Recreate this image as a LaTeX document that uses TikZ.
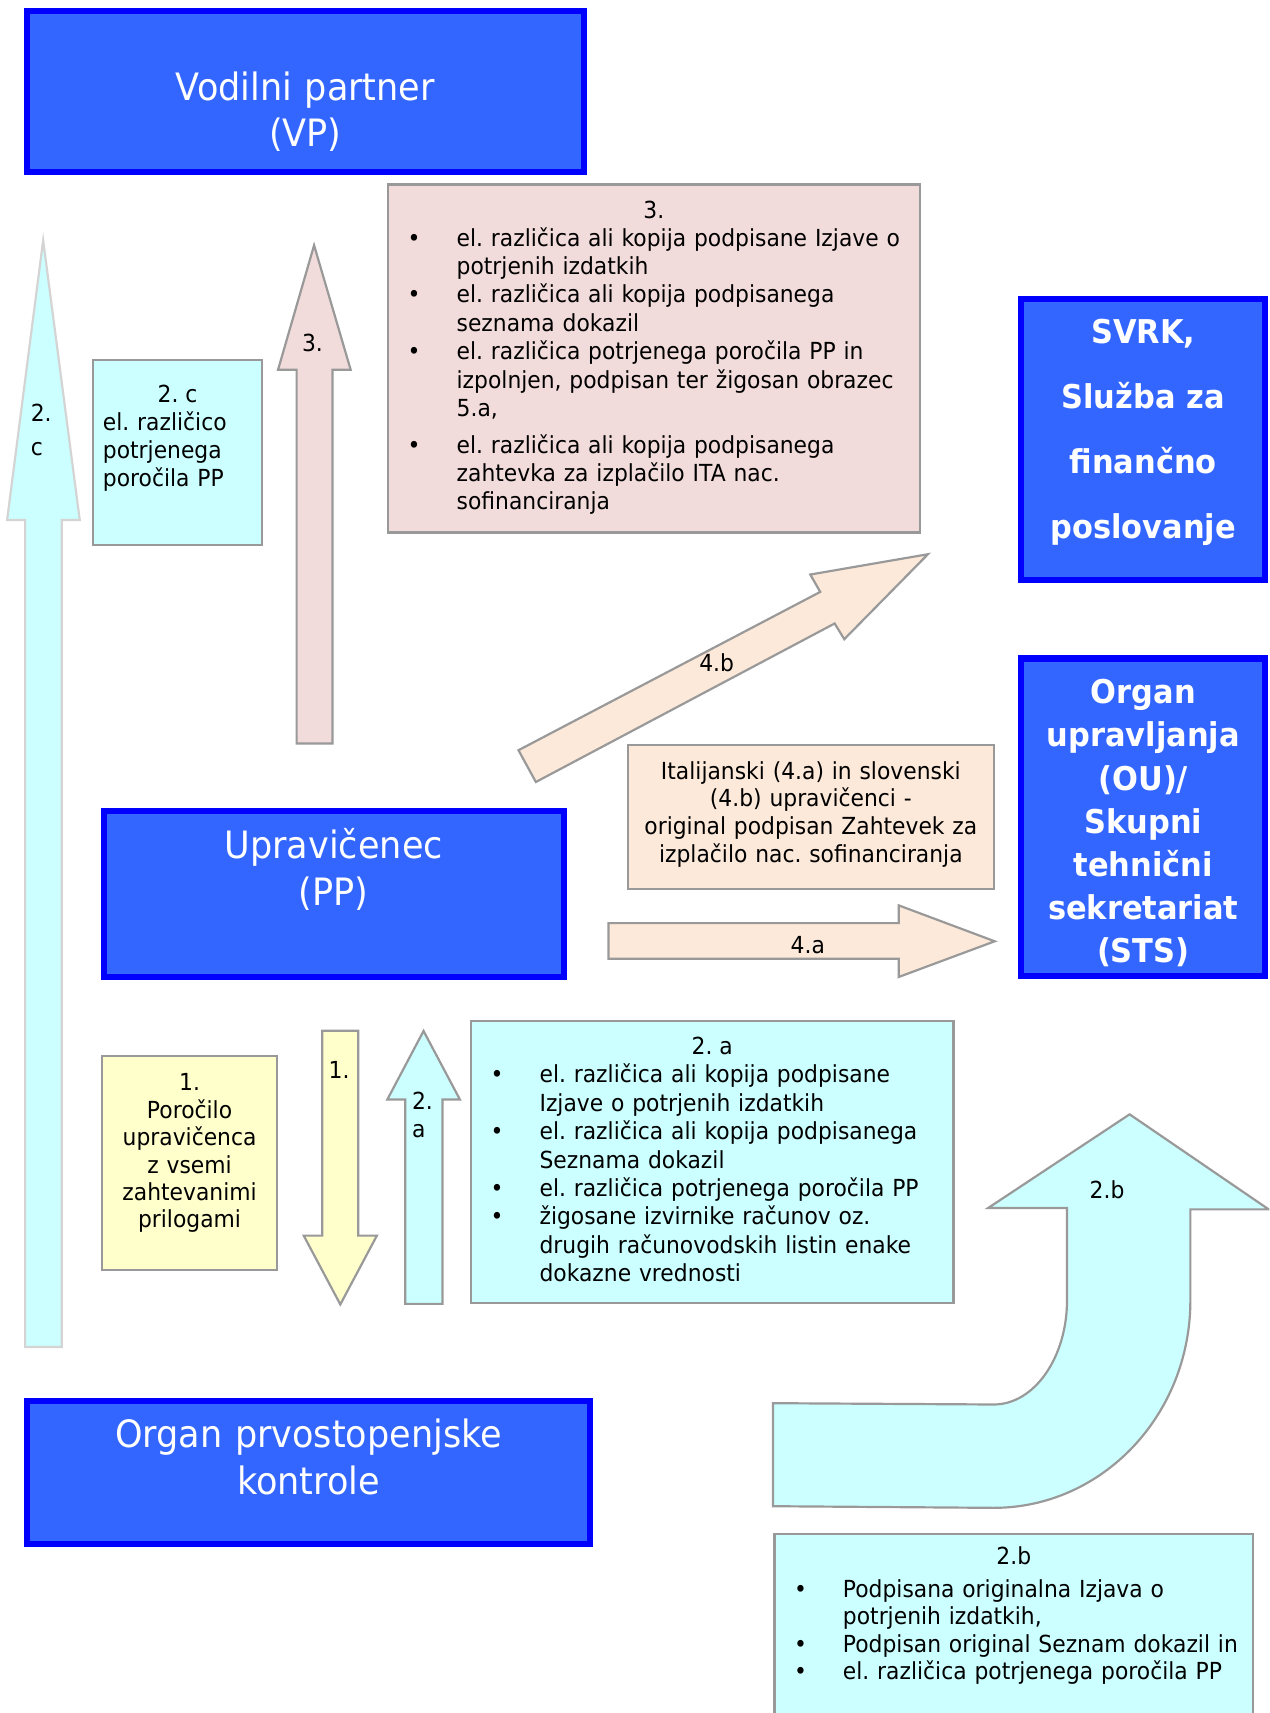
\documentclass[tikz,border=0pt]{standalone}
\usepackage{fontspec}
\setmainfont{DejaVu Sans}[FakeStretch=0.93]
\definecolor{bfill}{HTML}{3366FF}
\definecolor{bline}{HTML}{0000FF}
\definecolor{pinkf}{HTML}{F2DCDB}
\definecolor{cyanf}{HTML}{CCFFFF}
\definecolor{yellf}{HTML}{FFFFCC}
\definecolor{peachf}{HTML}{FDE9D9}
\definecolor{grayl}{HTML}{999999}
\definecolor{grayll}{HTML}{D4D4D4}
\newcommand\bitem{\hangindent=44.8pt\hangafter=1\makebox[44.8pt][l]{•}}
\begin{document}
\frenchspacing
\begin{tikzpicture}[x=1pt,y=-1pt,
  bluebox/.style={draw=bline, fill=bfill, line width=5.5pt, inner sep=0pt, outer sep=0pt, anchor=north west},
  graybox/.style={draw=grayl, fill=#1, line width=2pt, inner sep=0pt, outer sep=0pt, anchor=north west},
  blockarrow/.style={draw=grayl, fill=#1, line width=2pt, line join=miter},
  txt/.style={inner sep=0pt, font=\fontsize{21.5}{26}\selectfont},
  list/.style={txt, align=left, text width=#1, anchor=north west},
  hdr/.style={inner sep=0pt, text=white, align=center, text width=#1, anchor=north, font=\fontsize{34.5}{42.7}\selectfont},
  bhdr/.style={inner sep=0pt, text=white, align=center, text width=220pt, anchor=north, font=\bfseries\fontsize{30}{#1}\selectfont}
]
\useasboundingbox (0,0) rectangle (1162,1568);
\clip (0,0) rectangle (1162,1568);
\fill[white] (0,0) rectangle (1162,1568);

% ---------- block arrows ----------
\filldraw[blockarrow=cyanf, draw=grayll] (23,1233) -- (23,476) -- (6.5,476) -- (39.5,220) -- (73,476) -- (56.5,476) -- (56.5,1233) -- cycle;
\filldraw[blockarrow=pinkf] (271.5,680.5) -- (271.5,338.5) -- (254.5,338.5) -- (287.5,224.5) -- (321,338.5) -- (304.3,338.5) -- (304.3,680.5) -- cycle;
\filldraw[blockarrow=yellf] (295,943.5) -- (328,943.5) -- (328,1131) -- (345,1131) -- (311.5,1194) -- (278,1131) -- (295,1131) -- cycle;
\filldraw[blockarrow=cyanf] (371,1193.5) -- (371,1006.5) -- (354.5,1006.5) -- (387.7,943.7) -- (421,1006.5) -- (405,1006.5) -- (405,1193.5) -- cycle;
\filldraw[blockarrow=peachf] (474.6,686.7) -- (750.8,541.8) -- (741.7,525.9) -- (849.4,507.3) -- (772.8,585.1) -- (764,570.7) -- (490.5,715.8) -- cycle;
\filldraw[blockarrow=peachf] (557,845) -- (822.6,845) -- (822.6,828.7) -- (910.5,861.6) -- (822.6,894.3) -- (822.6,877.5) -- (557,877.5) -- cycle;
\filldraw[blockarrow=cyanf] (707.5,1284.4) -- (909.6,1285.6) .. controls (946.6,1285.6) and (976.7,1242.8) .. (976.7,1190) -- (976.7,1105.8) -- (904.4,1105.8) -- (1034,1020) -- (1161.3,1107) -- (1089.6,1107) -- (1089.6,1190.4) .. controls (1089.6,1295.2) and (1009,1380.2) .. (909.6,1380.2) -- (707.5,1378.7) -- cycle;

% ---------- blue boxes ----------
\node[bluebox, minimum width=509.5pt, minimum height=147.5pt] (vp) at (24.75,9.75) {};
\node[bluebox, minimum width=223.5pt, minimum height=257.5pt] (svrk) at (934.75,273.75) {};
\node[bluebox, minimum width=223.5pt, minimum height=290.5pt] (ou) at (934.75,602.75) {};
\node[bluebox, minimum width=421.5pt, minimum height=151.5pt] (pp) at (94.75,742.75) {};
\node[bluebox, minimum width=515.5pt, minimum height=130.6pt] (opk) at (24.75,1282.25) {};

% ---------- gray boxes ----------
\node[graybox=pinkf, minimum width=487.5pt, minimum height=318.5pt] (b3) at (354.8,168.9) {};
\node[graybox=cyanf, minimum width=155.1pt, minimum height=169.4pt] (b2c) at (85,329.3) {};
\node[graybox=yellf, minimum width=160.7pt, minimum height=196.1pt] (b1) at (93.2,966.4) {};
\node[graybox=cyanf, minimum width=441.4pt, minimum height=258.6pt] (b2a) at (431.4,934.4) {};
\node[graybox=peachf, minimum width=334.7pt, minimum height=132.4pt] (bpe) at (574.8,681.6) {};
\node[graybox=cyanf, minimum width=437.6pt, minimum height=250pt] (b2b) at (709,1404) {};

% ---------- header texts ----------
\node[hdr=500pt] (tvp) at (279.5,63.6) {\rule{0pt}{28pt}Vodilni partner\\(VP)};
\node[hdr=420pt] (tpp) at (305.5,758) {\rule{0pt}{28pt}Upravičenec\\(PP)};
\node[hdr=510pt] (topk) at (282.5,1296.7) {\rule{0pt}{28pt}Organ prvostopenjske\\kontrole};
\node[bhdr=59.7] (tsvrk) at (1046.5,290) {\rule{0pt}{24pt}SVRK,\\Služba za\\finančno\\poslovanje};
\node[bhdr=39.5] (tou) at (1046.5,620) {\rule{0pt}{24pt}Organ\\upravljanja\\(OU)/\\Skupni\\tehnični\\sekretariat\\(STS)};

% ---------- box texts ----------
\node[txt, anchor=base] (t3h) at (598.5,200) {3.};
\node[list=470pt] (t3) at (373,207) {%
\bitem\rule{0pt}{18pt}el. različica ali kopija podpisane Izjave o\newline potrjenih izdatkih\par
\bitem el. različica ali kopija podpisanega\newline seznama dokazil\par
\bitem el. različica potrjenega poročila PP in\newline izpolnjen, podpisan ter žigosan obrazec\newline 5.a,\par
\vspace{7.5pt}%
\bitem el. različica ali kopija podpisanega\newline zahtevka za izplačilo ITA nac.\newline sofinanciranja\par};

\node[txt, anchor=base] (t2ch) at (162.5,368) {2. c};
\node[list=145pt, font=\fontsize{21.5}{25.4}\selectfont] (t2c) at (94,376) {\rule{0pt}{18pt}el. različico\\potrjenega\\poročila PP};

\node[txt, align=center, text width=160pt, anchor=north, font=\fontsize{21.5}{25.1}\selectfont] (t1) at (173.5,980.2) {\rule{0pt}{18pt}1.\\Poročilo\\upravičenca\\z vsemi\\zahtevanimi\\prilogami};

\node[txt, align=center, text width=330pt, anchor=north, font=\fontsize{21.5}{25.3}\selectfont] (tpe) at (742.2,695) {\rule{0pt}{18pt}Italijanski (4.a) in slovenski\\(4.b) upravičenci -\\original podpisan Zahtevek za\\izplačilo nac. sofinanciranja};

\node[txt, anchor=base] (t2ah) at (652,965) {2. a};
\node[list=440pt] (t2a) at (448.9,973) {%
\bitem\rule{0pt}{18pt}el. različica ali kopija podpisane\newline Izjave o potrjenih izdatkih\par
\bitem el. različica ali kopija podpisanega\newline Seznama dokazil\par
\bitem el. različica potrjenega poročila PP\par
\bitem žigosane izvirnike računov oz.\newline drugih računovodskih listin enake\newline dokazne vrednosti\par};

\node[txt, anchor=base] (t2bh) at (928,1432.3) {2.b};
\node[list=430pt, font=\fontsize{21.5}{25}\selectfont] (t2b) at (726.6,1444) {%
\bitem\rule{0pt}{18pt}Podpisana originalna Izjava o\newline potrjenih izdatkih,\par
\bitem Podpisan original Seznam dokazil in\par
\bitem el. različica potrjenega poročila PP\par};

% ---------- arrow labels ----------
\node[list=40pt, font=\fontsize{21.5}{30.6}\selectfont] (l2c) at (28,368) {\rule{0pt}{18pt}2.\\c};
\node[txt, anchor=base] (l3) at (286,322) {3.};
\node[txt, anchor=base west] (l1) at (300.6,987.6) {1.};
\node[list=40pt, font=\fontsize{21.5}{25.6}\selectfont] (l2a) at (377,997) {\rule{0pt}{18pt}2.\\a};
\node[txt, anchor=base] (l4b) at (656,615) {4.b};
\node[txt, anchor=base] (l4a) at (739.4,873) {4.a};
\node[txt, anchor=base] (l2b) at (1013.3,1097) {2.b};
\end{tikzpicture}
\end{document}
